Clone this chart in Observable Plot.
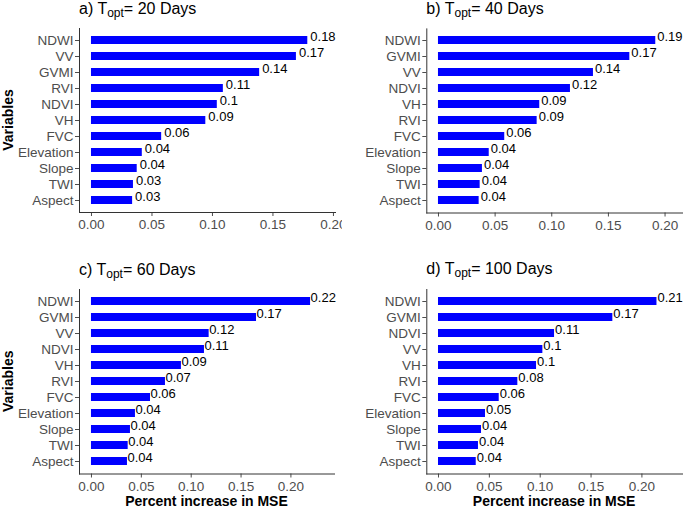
<!DOCTYPE html>
<html><head><meta charset="utf-8">
<script src="https://cdn.jsdelivr.net/npm/d3@7"></script>
<script src="https://cdn.jsdelivr.net/npm/@observablehq/plot@0.6"></script>
<style>
body{margin:0;background:#fff;}
#chart{position:relative;width:684px;height:508px;overflow:hidden;background:#fff;font-family:"Liberation Sans",Arial,sans-serif;}
.panel{position:absolute;width:342px;height:254px;overflow:hidden;}
.panel svg{overflow:hidden;display:block;}
</style></head><body><div id="chart"></div>
<script>
const FONT = '"Liberation Sans", Arial, sans-serif';

// Panel titles
const panelLetters = ["a", "b", "c", "d"];
const panelDays = [20, 40, 60, 100];

// Variables (top to bottom) and % increase in MSE per panel
const varsA = ["NDWI", "VV", "GVMI", "RVI", "NDVI", "VH", "FVC", "Elevation", "Slope", "TWI", "Aspect"];
const valuesA = [0.1788, 0.1694, 0.139, 0.109, 0.104, 0.0945, 0.058, 0.042, 0.0378, 0.0347, 0.034];

const varsB = ["NDWI", "GVMI", "VV", "NDVI", "VH", "RVI", "FVC", "Elevation", "Slope", "TWI", "Aspect"];
const valuesB = [0.1918, 0.1689, 0.1368, 0.1165, 0.0894, 0.0871, 0.0585, 0.0448, 0.0388, 0.0368, 0.0359];

const varsC = ["NDWI", "GVMI", "VV", "NDVI", "VH", "RVI", "FVC", "Elevation", "Slope", "TWI", "Aspect"];
const valuesC = [0.2197, 0.1655, 0.118, 0.1133, 0.0902, 0.0742, 0.0592, 0.0441, 0.0391, 0.0368, 0.0361];

const varsD = ["NDWI", "GVMI", "NDVI", "VV", "VH", "RVI", "FVC", "Elevation", "Slope", "TWI", "Aspect"];
const valuesD = [0.2148, 0.1714, 0.1141, 0.1026, 0.0964, 0.078, 0.0597, 0.0462, 0.0423, 0.0393, 0.0371];

// Axis tick values
const xTicks = [0, 0.05, 0.10, 0.15, 0.20];
const yAxisTitle = "Variables";
const xAxisTitle = "Percent increase in MSE";

const panels = [
  {vars: varsA, values: valuesA, left: 0, top: 0, ml: 79, mr: 7, mt: 28, mb: 42, xDomain: [-0.0099, 0.2017], dx: 2.5, titleY: 14, yTitle: true, xTitle: false},
  {vars: varsB, values: valuesB, left: 342, top: 0, ml: 84.3, mr: 2, mt: 28.4, mb: 41.5, xDomain: [-0.0103, 0.2154], dx: 1.5, titleY: 13.5, yTitle: false, xTitle: false},
  {vars: varsC, values: valuesC, left: 0, top: 254, ml: 79, mr: 8, mt: 35, mb: 34.5, xDomain: [-0.012, 0.2437], dx: 0, titleY: 20.5, yTitle: true, xTitle: true},
  {vars: varsD, values: valuesD, left: 342, top: 254, ml: 84.3, mr: 2, mt: 35, mb: 34.5, xDomain: [-0.0115, 0.2399], dx: 0.5, titleY: 20, yTitle: false, xTitle: true}
];

const fmtLabel = v => String(Math.round(v * 100) / 100);
const fmtTick = d3.format(".2f");
const chart = document.getElementById("chart");

panels.forEach((cfg, i) => {
  const data = cfg.vars.map((v, j) => ({variable: v, value: cfg.values[j]}));
  const svg = Plot.plot({
    width: 342, height: 254,
    marginLeft: cfg.ml, marginRight: cfg.mr, marginTop: cfg.mt, marginBottom: cfg.mb,
    style: {fontFamily: FONT, fontSize: "13.5px", background: "white", overflow: "hidden"},
    x: {domain: cfg.xDomain},
    y: {domain: cfg.vars, paddingInner: 0.5, paddingOuter: 0.35, align: 0.5},
    marks: [
      Plot.barX(data, {x: "value", y: "variable", fill: "#0000ff"}),
      Plot.text(data, {x: "value", y: "variable", text: d => fmtLabel(d.value), textAnchor: "start", dx: cfg.dx, dy: -4, fill: "black", fontSize: 13}),
      Plot.axisX(xTicks, {tickSize: 4, tickPadding: 3, tickFormat: fmtTick, fontSize: 13.5, color: "#4d4d4d", label: null}),
      Plot.axisY({tickSize: 4, tickPadding: 2, fontSize: 13.5, color: "#4d4d4d", label: null}),
      Plot.frame({anchor: "left", stroke: "#333"}),
      Plot.frame({anchor: "bottom", stroke: "#333"})
    ]
  });
  const s = d3.select(svg);
  const t = s.append("text").attr("x", cfg.ml).attr("y", cfg.titleY)
    .attr("text-anchor", "start")
    .attr("font-size", 16).attr("fill", "black").attr("font-family", FONT);
  t.append("tspan").text(panelLetters[i] + ") T");
  t.append("tspan").attr("font-size", 12).attr("dy", 3).text("opt");
  t.append("tspan").attr("dy", -3).text("= " + panelDays[i] + " Days");

  const frameTop = cfg.mt, frameBottom = 254 - cfg.mb;
  if (cfg.yTitle) {
    s.append("text")
      .attr("transform", `translate(13,${(frameTop + frameBottom) / 2}) rotate(-90)`)
      .attr("text-anchor", "middle").attr("font-weight", "bold").attr("font-size", 14)
      .attr("fill", "black").attr("font-family", FONT).text(yAxisTitle);
  }
  if (cfg.xTitle) {
    s.append("text")
      .attr("x", (cfg.ml + 342 - cfg.mr) / 2).attr("y", 252)
      .attr("text-anchor", "middle").attr("font-weight", "bold").attr("font-size", 14)
      .attr("fill", "black").attr("font-family", FONT).text(xAxisTitle);
  }
  const div = document.createElement("div");
  div.className = "panel";
  div.style.left = cfg.left + "px";
  div.style.top = cfg.top + "px";
  div.appendChild(svg);
  chart.appendChild(div);
});
</script>
</body></html>
